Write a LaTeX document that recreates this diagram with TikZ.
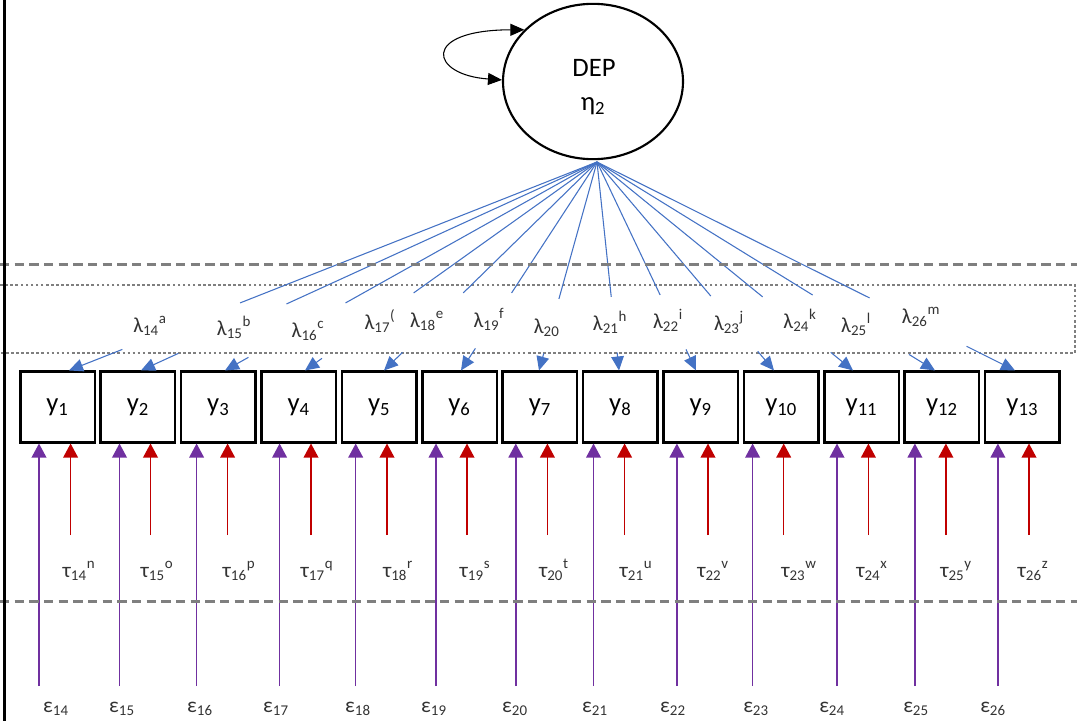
\documentclass[tikz,border=0pt]{standalone}
\usepackage{fontspec}
\setmainfont{Carlito}
\usetikzlibrary{arrows.meta,calc,shapes.geometric}
\definecolor{lblue}{HTML}{4472C4}
\definecolor{lpurple}{HTML}{7030A0}
\definecolor{lred}{HTML}{C00000}
\definecolor{lgray}{HTML}{7F7F7F}
\definecolor{txtgray}{HTML}{333333}
\tikzset{
 obsbox/.style={draw=black, line width=1.9pt, minimum width=55.9pt, minimum height=52.9pt, inner sep=0pt, font=\fontsize{20}{24}\selectfont},
 latent/.style={ellipse, draw=black, line width=1.6pt, minimum width=135pt, minimum height=116.5pt, inner sep=0pt},
 bigtxt/.style={font=\fontsize{20}{24}\selectfont, inner sep=0pt, anchor=base},
 smalltxt/.style={font=\fontsize{16}{19}\selectfont, text=txtgray, inner sep=0pt, anchor=base},
 loadline/.style={draw=lblue, line width=0.8pt},
 loadarrow/.style={loadline, -{Triangle[length=10.5pt,width=9.5pt]}},
 errarrow/.style={draw=lpurple, line width=1.1pt, -{Triangle[length=10.5pt,width=11pt]}},
 intarrow/.style={draw=lred, line width=1.1pt, -{Triangle[length=10.5pt,width=11pt]}},
 selfloop/.style={draw=black, line width=0.8pt, {Triangle[length=10.5pt,width=9pt]}-{Triangle[length=10.5pt,width=9pt]}},
 dashline/.style={draw=lgray, line width=1.9pt, dash pattern=on 7pt off 4pt},
 dotbox/.style={draw=lgray, line width=2.2pt, dash pattern=on 2pt off 1.8pt},
 frameline/.style={draw=black, line width=1.9pt},
}
\begin{document}
\begin{tikzpicture}[x=0.75pt,y=-0.75pt]
\useasboundingbox (0,0) rectangle (1077,721);
% latent variable
\node[latent] (eta) at (593,81.5) {};
\node[bigtxt] (deptxt) at (594,76) {DEP};
\node[bigtxt] (etatxt) at (593,110) {η\textsubscript{2}};
\draw[selfloop] (eta.143) .. controls (420,30) and (430,75) .. (eta.179);
% observed boxes
\foreach \i in {1,...,13}
  \node[obsbox] (y\i) at ({57.5+80.4*(\i-1)},407) {y\textsubscript{\i}};
% frame of dotted region
\draw[dotbox] (-2,285) rectangle (1075,353);
% loadings
\coordinate (src) at (597,162);
\foreach \i/\dx/\ta/\tb in {1/11.5/0.676/0.899, 2/3.1/0.681/0.918, 3/6.7/0.676/0.937, 4/6.3/0.628/0.942, 5/4.9/0.628/0.913, 6/1.5/0.628/0.894, 7/-0.9/0.657/0.918, 8/-1.3/0.647/0.913, 9/-4.7/0.638/0.899, 10/-7.1/0.643/0.908, 11/-8.5/0.647/0.913, 12/-6.9/0.638/0.923, 13/-7.3/0.652/0.884} {
  \coordinate (tip\i) at ($(y\i.north)+(\dx,0)$);
  \draw[loadline] (src) -- ($(src)!\ta!(tip\i)$);
  \draw[loadarrow] ($(src)!\tb!(tip\i)$) -- (tip\i);
}
% loading labels
\foreach \i/\x/\y/\s in {14/150/332/a, 15/234/335/b, 16/308/337/c, 17/380/329/(, 18/427/327/e, 19/489/327/f, 20/547/333/, 21/610/330/h, 22/668/328/i, 23/729/330/j, 24/800/328/k, 25/856/332/l, 26/921/323/m}
  \node[smalltxt] (lam\i) at (\x,\y) {λ\textsubscript{\i}\textsuperscript{\s}};
% intercept labels
\foreach \i/\x/\s in {14/79/n, 15/157/o, 16/239/p, 17/317/q, 18/398/r, 19/475/s, 20/554/t, 21/636/u, 22/713/v, 23/799/w, 24/872/x, 25/956/y, 26/1033/z}
  \node[smalltxt] (tau\i) at (\x,577) {τ\textsubscript{\i}\textsuperscript{\s}};
% error labels
\foreach \i/\x in {14/56, 15/122, 16/200, 17/276, 18/358, 19/434, 20/515, 21/595, 22/673, 23/756, 24/832, 25/916, 26/993}
  \node[smalltxt] (eps\i) at (\x,712) {ε\textsubscript{\i}};
% error and intercept arrows
\foreach \i/\p/\r in {1/39/70.6, 2/119.5/150.5, 3/196.6/227.6, 4/279.6/311, 5/355.7/387, 6/436/467, 7/515.8/547.4, 8/593.5/624.6, 9/676.9/708, 10/752.6/783.7, 11/837/868.4, 12/914.9/945.9, 13/997.9/1029} {
  \coordinate (eb\i) at (\p,686);
  \coordinate (tb\i) at (\r,535);
  \draw[errarrow] (eb\i) -- (eb\i |- y\i.south);
  \draw[intarrow] (tb\i) -- (tb\i |- y\i.south);
}
% dashed separators
\draw[dashline] (0,264.5) -- (1077,264.5);
\draw[dashline] (0,601.5) -- (1077,601.5);
\draw[frameline] (4.5,0) -- (4.5,721);
\end{tikzpicture}
\end{document}
